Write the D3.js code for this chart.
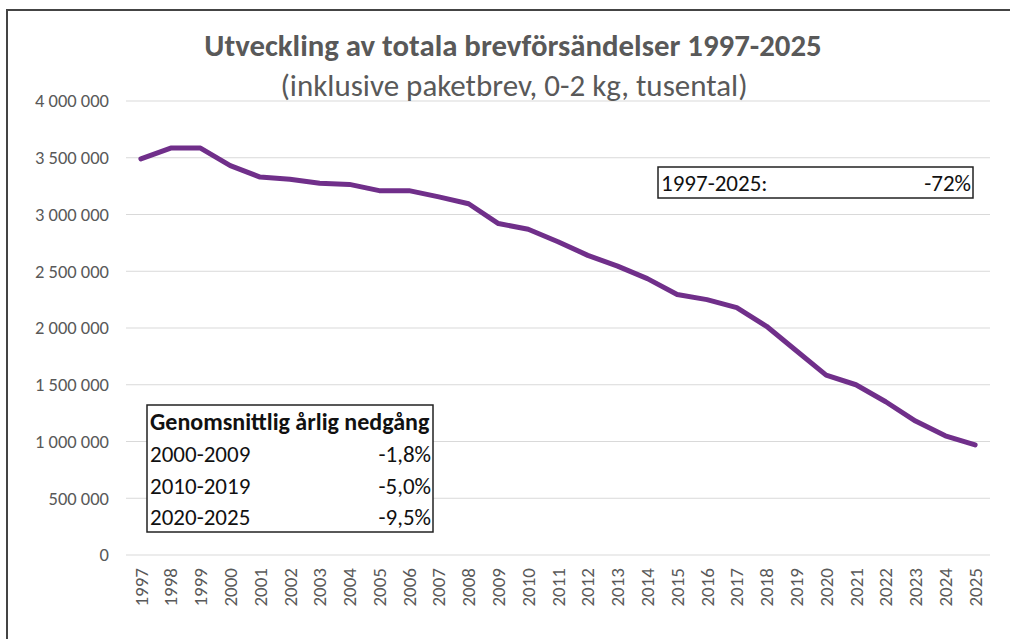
<!DOCTYPE html>
<html>
<head>
<meta charset="utf-8">
<script src="https://cdn.jsdelivr.net/npm/d3@7"></script>
<style>
  body { margin: 0; background: #fff; }
  svg { display: block; }
</style>
</head>
<body>
<svg id="chart" width="1010" height="639"></svg>
<script>
// år och antal brevförsändelser (tusental)
const years = ['1997', '1998', '1999', '2000', '2001', '2002', '2003', '2004', '2005', '2006',
    '2007', '2008', '2009', '2010', '2011', '2012', '2013', '2014', '2015', '2016',
    '2017', '2018', '2019', '2020', '2021', '2022', '2023', '2024', '2025']
const volumes = [3490000, 3585000, 3585000, 3430000, 3330000, 3310000, 3275000, 3265000, 3210000, 3210000,
    3155000, 3095000, 2920000, 2870000, 2760000, 2640000, 2545000, 2435000, 2295000, 2250000,
    2180000, 2015000, 1800000, 1585000, 1500000, 1350000, 1180000, 1050000, 970000]
const yTicks = [0, 500000, 1000000, 1500000, 2000000, 2500000, 3000000, 3500000, 4000000]

// tabell: genomsnittlig årlig nedgång
const tableHeader = 'Genomsnittlig årlig nedgång'
const periods = ['2000-2009', '2010-2019', '2020-2025']
const declines = ['-1,8%', '-5,0%', '-9,5%']
const totalPeriod = '1997-2025:'
const totalChange = '-72%'

const titleText = 'Utveckling av totala brevförsändelser 1997-2025'
const subtitleText = '(inklusive paketbrev, 0-2 kg, tusental)'

const svg = d3.select('#chart')
const font = 'Carlito, Calibri, "Open Sans", "Liberation Sans", sans-serif'
const gray = '#595959'

// ram
svg.append('path')
    .attr('d', 'M7,639 V10 H1010')
    .attr('fill', 'none')
    .attr('stroke', '#444')
    .attr('stroke-width', 2)

// skalor
const x = d3.scaleBand().domain(years).range([126, 990])
const y = d3.scaleLinear().domain([0, 4000000]).range([555, 101])

// rutnät
svg.append('g')
    .selectAll('line')
    .data(yTicks)
    .join('line')
    .attr('x1', 126)
    .attr('x2', 990)
    .attr('y1', (d) => y(d))
    .attr('y2', (d) => y(d))
    .attr('stroke', '#d9d9d9')
    .attr('stroke-width', 1.2)

// y-axel
const yAxis = svg.append('g')
    .attr('transform', 'translate(109,0)')
    .call(d3.axisLeft(y).tickValues(yTicks).tickSize(0).tickPadding(0).tickFormat((d) => d3.format(',')(d).replace(/,/g, ' ')))
yAxis.select('.domain').remove()
yAxis.selectAll('text')
    .attr('fill', gray)
    .style('font-family', font)
    .style('font-size', '18.5px')

// x-axel
const xAxis = svg.append('g')
    .attr('transform', 'translate(0,566)')
    .call(d3.axisBottom(x).tickSize(0).tickPadding(0))
xAxis.select('.domain').remove()
xAxis.selectAll('.tick text')
    .attr('fill', gray)
    .style('font-family', font)
    .style('font-size', '19px')
    .attr('text-anchor', 'end')
    .attr('dy', '0.35em')
    .attr('y', 0)
    .attr('x', -2)
    .attr('transform', 'rotate(-90)')

// linje
const line = d3.line()
    .x((d, i) => x(years[i]) + x.bandwidth() / 2)
    .y((d) => y(d))
svg.append('path')
    .datum(volumes)
    .attr('d', line)
    .attr('fill', 'none')
    .attr('stroke', '#702f8a')
    .attr('stroke-width', 5)
    .attr('stroke-linejoin', 'round')
    .attr('stroke-linecap', 'round')

// titel
svg.append('text')
    .attr('x', 513)
    .attr('y', 56)
    .attr('text-anchor', 'middle')
    .attr('fill', gray)
    .style('font-family', font)
    .style('font-size', '30.8px')
    .style('font-weight', 'bold')
    .text(titleText)
svg.append('text')
    .attr('x', 514)
    .attr('y', 96)
    .attr('text-anchor', 'middle')
    .attr('fill', gray)
    .style('font-family', font)
    .style('font-size', '31px')
    .text(subtitleText)

// ruta uppe till höger
const totalBox = svg.append('g')
totalBox.append('rect')
    .attr('x', 658).attr('y', 167).attr('width', 315).attr('height', 31)
    .attr('fill', '#fff').attr('stroke', '#222').attr('stroke-width', 1.5)
totalBox.append('text')
    .attr('x', 661).attr('y', 191)
    .style('font-family', font).style('font-size', '23px')
    .attr('fill', '#111')
    .text(totalPeriod)
totalBox.append('text')
    .attr('x', 971).attr('y', 191)
    .attr('text-anchor', 'end')
    .style('font-family', font).style('font-size', '23px')
    .attr('fill', '#111')
    .text(totalChange)

// tabell nere till vänster
const table = svg.append('g')
table.append('rect')
    .attr('x', 147).attr('y', 405).attr('width', 286).attr('height', 127)
    .attr('fill', '#fff').attr('stroke', '#222').attr('stroke-width', 1.5)
table.append('text')
    .attr('x', 150).attr('y', 430)
    .style('font-family', font).style('font-size', '24px').style('font-weight', 'bold')
    .attr('fill', '#111')
    .text(tableHeader)
table.selectAll('.period')
    .data(periods)
    .join('text')
    .attr('class', 'period')
    .attr('x', 150)
    .attr('y', (d, i) => 462 + i * 31.5)
    .style('font-family', font).style('font-size', '23px')
    .attr('fill', '#111')
    .text((d) => d)
table.selectAll('.decline')
    .data(declines)
    .join('text')
    .attr('class', 'decline')
    .attr('x', 431)
    .attr('y', (d, i) => 462 + i * 31.5)
    .attr('text-anchor', 'end')
    .style('font-family', font).style('font-size', '23px')
    .attr('fill', '#111')
    .text((d) => d)
</script>
</body>
</html>
